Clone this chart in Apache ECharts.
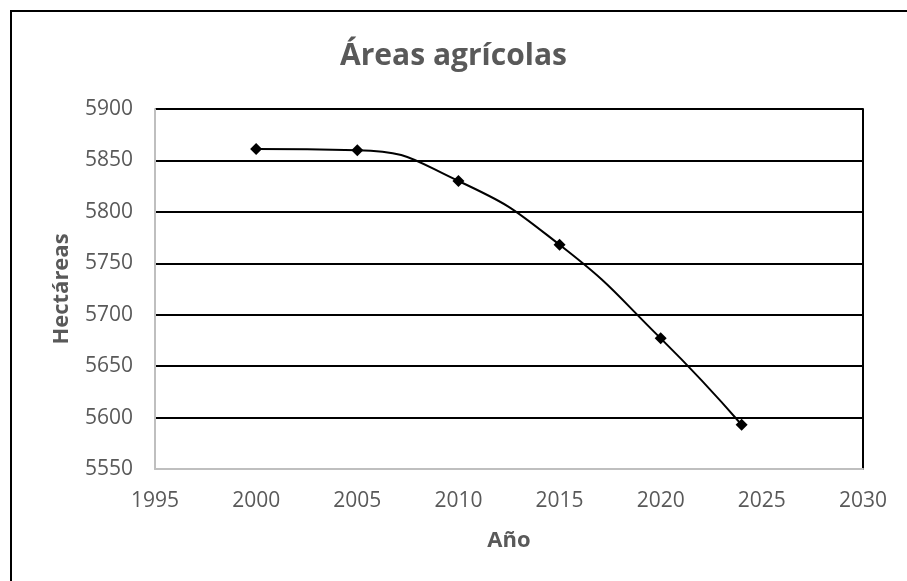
<!DOCTYPE html>
<html>
<head>
<meta charset="utf-8">
<script src="https://cdn.jsdelivr.net/npm/echarts@6/dist/echarts.min.js"></script>
<style>
  html, body { margin: 0; padding: 0; background: #fff; }
  #chart { width: 907px; height: 581px; }
</style>
</head>
<body>
<div id="chart"></div>
<script>
// Agricultural area (hectares) by year
const years = [2000, 2005, 2010, 2015, 2020, 2024];
const hectares = [5861, 5860, 5830, 5768, 5677, 5593];

const titleText = 'Áreas agrícolas';
const xName = 'Año';
const yName = 'Hectáreas';

const labelGray = '#595959';
const fontFam = '"Open Sans", "Noto Sans", sans-serif';
const plain = v => String(v);

const chart = echarts.init(document.getElementById('chart'), null, { renderer: 'canvas' });

chart.setOption({
  animation: false,
  backgroundColor: '#ffffff',
  title: {
    text: titleText,
    left: 'center',
    top: 36,
    textStyle: { color: labelGray, fontFamily: fontFam, fontWeight: 'bold', fontSize: 30 }
  },
  graphic: [{
    type: 'rect',
    left: 10, top: 10,
    shape: { width: 1000, height: 1000 },
    style: { fill: 'transparent', stroke: '#000', lineWidth: 2 },
    silent: true,
    z: -1
  }],
  grid: { left: 155, right: 44, top: 109, bottom: 112 },
  xAxis: {
    type: 'value',
    min: 1995, max: 2030, interval: 5,
    name: xName,
    nameLocation: 'middle',
    nameGap: 61,
    nameTextStyle: { color: labelGray, fontFamily: fontFam, fontWeight: 'bold', fontSize: 22 },
    axisLine: { show: true, lineStyle: { color: '#bfbfbf', width: 2 } },
    axisTick: { show: false },
    splitLine: { show: false },
    axisLabel: { color: labelGray, fontFamily: fontFam, fontSize: 21, margin: 22, formatter: plain }
  },
  yAxis: [{
    type: 'value',
    min: 5550, max: 5900, interval: 50,
    name: yName,
    nameLocation: 'middle',
    nameGap: 82,
    nameTextStyle: { color: labelGray, fontFamily: fontFam, fontWeight: 'bold', fontSize: 22 },
    axisLine: { show: true, lineStyle: { color: '#bfbfbf', width: 2 } },
    axisTick: { show: false },
    splitLine: { show: true, lineStyle: { color: '#000', width: 2 } },
    axisLabel: { color: labelGray, fontFamily: fontFam, fontSize: 21, margin: 22, formatter: plain }
  }, {
    type: 'value',
    position: 'right',
    min: 5550, max: 5900, interval: 50,
    axisLine: { show: true, lineStyle: { color: '#000', width: 2 } },
    axisTick: { show: false },
    axisLabel: { show: false },
    splitLine: { show: false }
  }],
  series: [{
    type: 'line',
    data: years.map((y, i) => [y, hectares[i]]),
    smooth: 0.5,
    symbol: 'diamond',
    symbolSize: 12,
    itemStyle: { color: '#000' },
    lineStyle: { color: '#000', width: 2 },
    z: 5
  }]
});
</script>
</body>
</html>
